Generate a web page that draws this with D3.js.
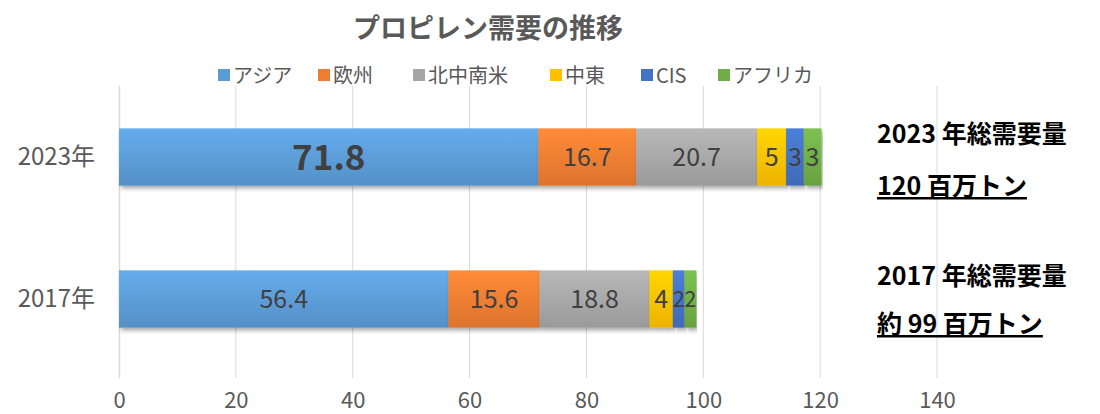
<!DOCTYPE html>
<html>
<head>
<meta charset="utf-8">
<script src="https://cdn.jsdelivr.net/npm/d3@7"></script>
<style>
  body { margin: 0; background: #fff; }
  svg { font-family: "Noto Sans CJK JP", "Noto Sans", sans-serif; }
</style>
</head>
<body>
<svg id="chart" width="1100" height="414"></svg>
<script>
const years = ["2023年", "2017年"];
const regions = ["アジア", "欧州", "北中南米", "中東", "CIS", "アフリカ"];
const colors = ["#5b9bd5", "#ed7d31", "#a5a5a5", "#ffc000", "#4472c4", "#70ad47"];
const values2023 = [71.8, 16.7, 20.7, 5, 3, 3];
const values2017 = [56.4, 15.6, 18.8, 4, 2, 2];
const xTicks = [0, 20, 40, 60, 80, 100, 120, 140];
const notes = [
  ["2023 年総需要量", "120 百万トン"],
  ["2017 年総需要量", "約 99 百万トン"]
];

const margin = { top: 86, right: 163, bottom: 36, left: 119 },
  width = 1100 - margin.left - margin.right,
  height = 414 - margin.top - margin.bottom;

const svg = d3.select("#chart");
const defs = svg.append("defs");

colors.forEach((c, i) => {
  const g = defs.append("linearGradient")
    .attr("id", "grad" + i).attr("x1", 0).attr("y1", 0).attr("x2", 0).attr("y2", 1);
  g.append("stop").attr("offset", "0%").attr("stop-color", d3.color(c).brighter(0.3));
  g.append("stop").attr("offset", "100%").attr("stop-color", d3.color(c).darker(0.2));
});
const shadow = defs.append("filter").attr("id", "shadow")
  .attr("x", "-5%").attr("y", "-20%").attr("width", "110%").attr("height", "150%");
shadow.append("feDropShadow").attr("dx", 2).attr("dy", 3).attr("stdDeviation", 2)
  .attr("flood-color", "#000").attr("flood-opacity", 0.35);

// title
svg.append("text")
  .attr("x", 488).attr("y", 38)
  .attr("text-anchor", "middle")
  .style("font-size", "27px").style("font-weight", "bold").style("fill", "#595959")
  .text("プロピレン需要の推移");

// legend
const legendX = [218, 318, 413, 550, 641, 718];
const legend = svg.append("g");
regions.forEach((r, i) => {
  legend.append("rect").attr("x", legendX[i]).attr("y", 69).attr("width", 12).attr("height", 12)
    .style("fill", colors[i]);
  legend.append("text").attr("x", legendX[i] + 15).attr("y", 83)
    .style("font-size", "20px").style("fill", "#595959").text(r);
});

const g = svg.append("g").attr("transform", `translate(${margin.left},${margin.top})`);

const x = d3.scaleLinear().domain([0, 140]).range([0, 818]);
const y = d3.scaleBand().domain(years).range([0, 284]).paddingInner(0.6).paddingOuter(0.3);

// gridlines
g.append("g")
  .selectAll("line").data(xTicks.slice(1)).enter().append("line")
  .attr("x1", d => x(d)).attr("x2", d => x(d))
  .attr("y1", 0).attr("y2", height)
  .style("stroke", "#d9d9d9").style("stroke-width", 1);

// x axis labels
const xAxis = g.append("g").attr("transform", `translate(0,${height})`)
  .call(d3.axisBottom(x).tickValues(xTicks).tickSize(0).tickPadding(14));
xAxis.select(".domain").remove();
xAxis.selectAll("text").style("font-size", "22px").style("fill", "#595959")
  .style("font-family", "\"Noto Sans CJK JP\", sans-serif");

// y axis
const yAxis = g.append("g").call(d3.axisLeft(y).tickSize(0).tickPadding(24));
yAxis.select(".domain").attr("d", `M0.5,0V${height}`).style("stroke", "#d9d9d9").style("stroke-width", 1.5);
yAxis.selectAll("text").style("font-size", "24px").style("fill", "#595959")
  .style("font-family", "\"Noto Sans CJK JP\", sans-serif");

// stacked bars
const rows = [values2023, values2017].map((vals, k) => {
  const o = { year: years[k] };
  regions.forEach((r, i) => (o[r] = vals[i]));
  return o;
});
const series = d3.stack().keys(regions)(rows);

const layers = g.selectAll(".layer").data(series).enter().append("g")
  .attr("class", "layer");

// shadows first, then the bar faces on top
layers.selectAll("rect.sh").data((d, i) => d.map(p => ({ p, i }))).enter().append("rect")
  .attr("class", "sh")
  .attr("x", d => x(d.p[0]))
  .attr("y", d => y(d.p.data.year))
  .attr("width", d => x(d.p[1]) - x(d.p[0]))
  .attr("height", y.bandwidth())
  .style("fill", d => `url(#grad${d.i})`)
  .attr("filter", "url(#shadow)");

layers.selectAll("rect.top").data((d, i) => d.map(p => ({ p, i }))).enter().append("rect")
  .attr("class", "top")
  .attr("x", d => x(d.p[0]))
  .attr("y", d => y(d.p.data.year))
  .attr("width", d => x(d.p[1]) - x(d.p[0]))
  .attr("height", y.bandwidth())
  .style("fill", d => `url(#grad${d.i})`);

const isBig = d => d.p.data.year === "2023年" && d.i === 0;
layers.selectAll("text").data((d, i) => d.map(p => ({ p, i, v: p[1] - p[0] }))).enter().append("text")
  .attr("x", d => (x(d.p[0]) + x(d.p[1])) / 2)
  .attr("y", d => y(d.p.data.year) + y.bandwidth() / 2)
  .attr("dy", "0.36em")
  .attr("text-anchor", "middle")
  .style("fill", "#404040")
  .style("font-size", d => (isBig(d) ? "35px" : d.v < 3 ? "22px" : "25px"))
  .style("font-weight", d => (isBig(d) ? "bold" : "normal"))
  .text(d => d3.format("~r")(+d.v.toFixed(1)));

// side notes
const noteY = [[143, 195], [285, 333]];
notes.forEach((n, k) => {
  svg.append("text").attr("x", 877).attr("y", noteY[k][0])
    .style("font-size", "25px").style("font-weight", "bold").style("fill", "#000").text(n[0]);
  svg.append("text").attr("x", 877).attr("y", noteY[k][1])
    .style("font-size", "25px").style("font-weight", "bold").style("fill", "#000")
    .style("text-decoration", "underline").text(n[1]);
});
</script>
</body>
</html>
